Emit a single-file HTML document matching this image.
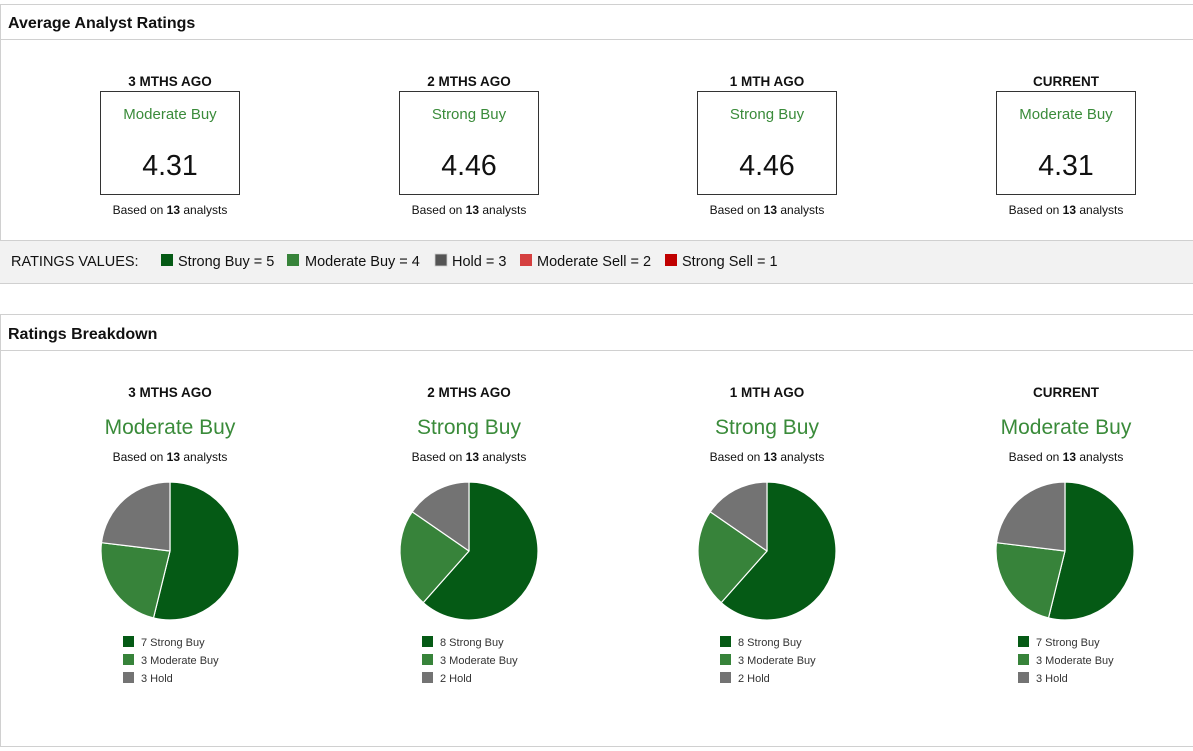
<!DOCTYPE html>
<html><head><meta charset="utf-8"><style>
html,body{margin:0;padding:0;background:#fff;width:1193px;height:751px;overflow:hidden}
svg{display:block}
text{font-family:"Liberation Sans",Arial,sans-serif}
.h{font-weight:bold;font-size:16px;fill:#111}
.col{font-weight:bold;font-size:13.5px;fill:#111;text-anchor:middle}
.g{font-size:15px;fill:#3a8b3a;text-anchor:middle}
.gb{font-size:21px;fill:#3a8b3a;text-anchor:middle}
.num{font-size:28.5px;fill:#111;text-anchor:middle}
.b{font-size:12px;fill:#111;text-anchor:middle}
.rv{font-size:14.5px;fill:#111}
.lg{font-size:11px;fill:#333}
</style></head><body>
<svg width="1193" height="751" viewBox="0 0 1193 751" xmlns="http://www.w3.org/2000/svg">
<!-- Panel 1 -->
<line x1="0" y1="4.5" x2="1193" y2="4.5" stroke="#d0d0d0"/>
<line x1="0.5" y1="4" x2="0.5" y2="284" stroke="#d0d0d0"/>
<line x1="0" y1="39.5" x2="1193" y2="39.5" stroke="#d0d0d0"/>
<text class="h" x="8" y="28">Average Analyst Ratings</text>

<g>
<text class="col" x="170" y="86">3 MTHS AGO</text>
<rect x="100.5" y="91.5" width="139" height="103" fill="#fff" stroke="#333"/>
<text class="g" x="170" y="119">Moderate Buy</text>
<text class="num" x="170" y="175">4.31</text>
<text class="b" x="170" y="214">Based on <tspan font-weight="bold">13</tspan> analysts</text>
</g>
<g>
<text class="col" x="469" y="86">2 MTHS AGO</text>
<rect x="399.5" y="91.5" width="139" height="103" fill="#fff" stroke="#333"/>
<text class="g" x="469" y="119">Strong Buy</text>
<text class="num" x="469" y="175">4.46</text>
<text class="b" x="469" y="214">Based on <tspan font-weight="bold">13</tspan> analysts</text>
</g>
<g>
<text class="col" x="767" y="86">1 MTH AGO</text>
<rect x="697.5" y="91.5" width="139" height="103" fill="#fff" stroke="#333"/>
<text class="g" x="767" y="119">Strong Buy</text>
<text class="num" x="767" y="175">4.46</text>
<text class="b" x="767" y="214">Based on <tspan font-weight="bold">13</tspan> analysts</text>
</g>
<g>
<text class="col" x="1066" y="86">CURRENT</text>
<rect x="996.5" y="91.5" width="139" height="103" fill="#fff" stroke="#333"/>
<text class="g" x="1066" y="119">Moderate Buy</text>
<text class="num" x="1066" y="175">4.31</text>
<text class="b" x="1066" y="214">Based on <tspan font-weight="bold">13</tspan> analysts</text>
</g>

<!-- Ratings values bar -->
<rect x="0" y="240" width="1193" height="43" fill="#f2f2f2"/>
<line x1="0" y1="240.5" x2="1193" y2="240.5" stroke="#d0d0d0"/>
<line x1="0" y1="283.5" x2="1193" y2="283.5" stroke="#d0d0d0"/>
<text class="rv" x="11" y="266">RATINGS VALUES:</text>
<rect x="161" y="254" width="12" height="12" fill="#055a15"/>
<text class="rv" x="178" y="266">Strong Buy = 5</text>
<rect x="287" y="254" width="12" height="12" fill="#37833a"/>
<text class="rv" x="305" y="266">Moderate Buy = 4</text>
<rect x="435" y="254" width="12" height="12" fill="#555555" stroke="#cfcfcf" stroke-width="0.8"/>
<text class="rv" x="452" y="266">Hold = 3</text>
<rect x="520" y="254" width="12" height="12" fill="#d54040"/>
<text class="rv" x="537" y="266">Moderate Sell = 2</text>
<rect x="665" y="254" width="12" height="12" fill="#c00000"/>
<text class="rv" x="682" y="266">Strong Sell = 1</text>

<!-- Panel 2 -->
<line x1="0" y1="314.5" x2="1193" y2="314.5" stroke="#d0d0d0"/>
<line x1="0.5" y1="314" x2="0.5" y2="747" stroke="#d0d0d0"/>
<line x1="0" y1="350.5" x2="1193" y2="350.5" stroke="#d0d0d0"/>
<line x1="0" y1="746.5" x2="1193" y2="746.5" stroke="#d0d0d0"/>
<text class="h" x="8" y="339">Ratings Breakdown</text>

<!-- Column 1 -->
<text class="col" x="170" y="397">3 MTHS AGO</text>
<text class="gb" x="170" y="434">Moderate Buy</text>
<text class="b" x="170" y="461">Based on <tspan font-weight="bold">13</tspan> analysts</text>
<g stroke="#fff" stroke-width="1.2" stroke-linejoin="round">
<path d="M170,551 L170,482 A69,69 0 1,1 153.49,617.99 Z" fill="#055a15"/>
<path d="M170,551 L153.49,617.99 A69,69 0 0,1 101.50,542.68 Z" fill="#37833a"/>
<path d="M170,551 L101.50,542.68 A69,69 0 0,1 170,482 Z" fill="#737373"/>
</g>
<rect x="123" y="636" width="11" height="11" fill="#055a15"/>
<text class="lg" x="141" y="646">7 Strong Buy</text>
<rect x="123" y="654" width="11" height="11" fill="#37833a"/>
<text class="lg" x="141" y="664">3 Moderate Buy</text>
<rect x="123" y="672" width="11" height="11" fill="#737373"/>
<text class="lg" x="141" y="682">3 Hold</text>

<!-- Column 2 -->
<text class="col" x="469" y="397">2 MTHS AGO</text>
<text class="gb" x="469" y="434">Strong Buy</text>
<text class="b" x="469" y="461">Based on <tspan font-weight="bold">13</tspan> analysts</text>
<g stroke="#fff" stroke-width="1.2" stroke-linejoin="round">
<path d="M469,551 L469,482 A69,69 0 1,1 423.25,602.65 Z" fill="#055a15"/>
<path d="M469,551 L423.25,602.65 A69,69 0 0,1 412.21,511.80 Z" fill="#37833a"/>
<path d="M469,551 L412.21,511.80 A69,69 0 0,1 469,482 Z" fill="#737373"/>
</g>
<rect x="422" y="636" width="11" height="11" fill="#055a15"/>
<text class="lg" x="440" y="646">8 Strong Buy</text>
<rect x="422" y="654" width="11" height="11" fill="#37833a"/>
<text class="lg" x="440" y="664">3 Moderate Buy</text>
<rect x="422" y="672" width="11" height="11" fill="#737373"/>
<text class="lg" x="440" y="682">2 Hold</text>

<!-- Column 3 -->
<text class="col" x="767" y="397">1 MTH AGO</text>
<text class="gb" x="767" y="434">Strong Buy</text>
<text class="b" x="767" y="461">Based on <tspan font-weight="bold">13</tspan> analysts</text>
<g stroke="#fff" stroke-width="1.2" stroke-linejoin="round">
<path d="M767,551 L767,482 A69,69 0 1,1 721.25,602.65 Z" fill="#055a15"/>
<path d="M767,551 L721.25,602.65 A69,69 0 0,1 710.21,511.80 Z" fill="#37833a"/>
<path d="M767,551 L710.21,511.80 A69,69 0 0,1 767,482 Z" fill="#737373"/>
</g>
<rect x="720" y="636" width="11" height="11" fill="#055a15"/>
<text class="lg" x="738" y="646">8 Strong Buy</text>
<rect x="720" y="654" width="11" height="11" fill="#37833a"/>
<text class="lg" x="738" y="664">3 Moderate Buy</text>
<rect x="720" y="672" width="11" height="11" fill="#737373"/>
<text class="lg" x="738" y="682">2 Hold</text>

<!-- Column 4 -->
<text class="col" x="1066" y="397">CURRENT</text>
<text class="gb" x="1066" y="434">Moderate Buy</text>
<text class="b" x="1066" y="461">Based on <tspan font-weight="bold">13</tspan> analysts</text>
<g stroke="#fff" stroke-width="1.2" stroke-linejoin="round">
<path d="M1065,551 L1065,482 A69,69 0 1,1 1048.49,617.99 Z" fill="#055a15"/>
<path d="M1065,551 L1048.49,617.99 A69,69 0 0,1 996.50,542.68 Z" fill="#37833a"/>
<path d="M1065,551 L996.50,542.68 A69,69 0 0,1 1065,482 Z" fill="#737373"/>
</g>
<rect x="1018" y="636" width="11" height="11" fill="#055a15"/>
<text class="lg" x="1036" y="646">7 Strong Buy</text>
<rect x="1018" y="654" width="11" height="11" fill="#37833a"/>
<text class="lg" x="1036" y="664">3 Moderate Buy</text>
<rect x="1018" y="672" width="11" height="11" fill="#737373"/>
<text class="lg" x="1036" y="682">3 Hold</text>
</svg>
</body></html>
